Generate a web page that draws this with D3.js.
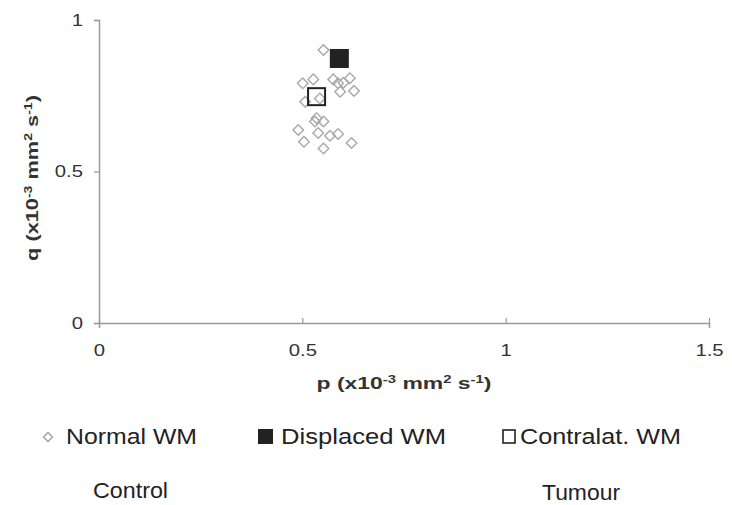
<!DOCTYPE html>
<html><head><meta charset="utf-8">
<script src="https://cdn.jsdelivr.net/npm/d3@7"></script>
<style>body{margin:0;background:#fff}svg{display:block}text{font-family:"Liberation Sans",Arial,sans-serif}</style>
</head><body><svg id="c" width="732" height="505"></svg>
<script>
const normalP = [0.552,0.501,0.527,0.576,0.601,0.617,0.593,0.627,0.588,0.543,0.507,0.535,0.552,0.531,0.490,0.539,0.568,0.588,0.504,0.552,0.621];
const normalQ = [0.901,0.791,0.804,0.804,0.793,0.808,0.763,0.766,0.791,0.741,0.730,0.676,0.665,0.665,0.637,0.627,0.618,0.624,0.598,0.576,0.594];
const displacedP = [0.591];
const displacedQ = [0.873];
const contralatP = [0.535];
const contralatQ = [0.747];
const xTicks = [0, 0.5, 1, 1.5];
const yTicks = [0, 0.5, 1];
const legendLabels = ["Normal WM", "Displaced WM", "Contralat. WM"];
const groupLabels = ["Control", "Tumour"];

const svg = d3.select("#c");
const x = d3.scaleLinear().domain([0, 1.5]).range([99, 709]);
const y = d3.scaleLinear().domain([0, 1]).range([323, 20]);
const axisColor = "#999";
const stretch = 1.27;

function widen(sel, s) {
  sel.each(function() {
    const w = this.getComputedTextLength();
    d3.select(this).attr("textLength", w * s).attr("lengthAdjust", "spacingAndGlyphs");
  });
}

const gx = svg.append("g").attr("transform", `translate(0,${y(0)})`)
  .call(d3.axisBottom(x).tickValues(xTicks).tickFormat(d3.format("")).tickSize(5).tickPadding(17));
const gy = svg.append("g").attr("transform", `translate(${x(0)},0)`)
  .call(d3.axisLeft(y).tickValues(yTicks).tickFormat(d3.format("")).tickSize(5).tickPadding(11));
[gx, gy].forEach(g => {
  g.select(".domain").attr("stroke", axisColor).attr("stroke-width", 1.5);
  g.selectAll(".tick line").attr("stroke", axisColor).attr("stroke-width", 1.2);
  g.selectAll(".tick text").attr("fill", "#333").style("font-size", "16px");
  widen(g.selectAll(".tick text"), stretch);
});
gx.selectAll(".tick line").attr("y1", 0).attr("y2", -5);
gy.selectAll(".tick line").attr("x1", 0).attr("x2", -5);

function fitText(sel, target) {
  const w = sel.node().getBBox().width;
  return target / w;
}
const titleHtml = v => `${v} (x10<tspan baseline-shift="super" font-size="11px">-3</tspan> mm<tspan baseline-shift="super" font-size="11px">2</tspan> s<tspan baseline-shift="super" font-size="11px">-1</tspan>)`;
const xt = svg.append("text").attr("text-anchor", "middle")
  .style("font-size", "17px").style("font-weight", "bold").attr("fill", "#333").html(titleHtml("p"));
xt.attr("transform", `translate(404,389) scale(${fitText(xt, 175)},1)`);
const yt = svg.append("text").attr("text-anchor", "middle")
  .style("font-size", "17px").style("font-weight", "bold").attr("fill", "#333").html(titleHtml("q"));
yt.attr("transform", `translate(38,178) rotate(-90) scale(${fitText(yt, 166)},1)`);

const diamond = (cx, cy, r) => `M${cx},${cy-r}L${cx+r},${cy}L${cx},${cy+r}L${cx-r},${cy}Z`;
const normal = normalP.map((p, i) => ({p, q: normalQ[i]}));
svg.append("g").selectAll("path").data(normal).join("path")
  .attr("d", d => diamond(x(d.p), y(d.q), 5.3))
  .attr("fill", "none").attr("stroke", "#a8a8a8").attr("stroke-width", 1.4);
svg.append("g").selectAll("rect").data(contralatP.map((p, i) => ({p, q: contralatQ[i]}))).join("rect")
  .attr("x", d => x(d.p) - 8.5).attr("y", d => y(d.q) - 8.5).attr("width", 17).attr("height", 17)
  .attr("fill", "none").attr("stroke", "#222").attr("stroke-width", 2);
svg.append("g").selectAll("rect").data(displacedP.map((p, i) => ({p, q: displacedQ[i]}))).join("rect")
  .attr("x", d => x(d.p) - 9.5).attr("y", d => y(d.q) - 9.5).attr("width", 19).attr("height", 19)
  .attr("fill", "#222");

// legend
const ly = 437;
svg.append("path").attr("d", diamond(48, ly, 4.5)).attr("fill", "none").attr("stroke", "#a0a0a0").attr("stroke-width", 1.3);
svg.append("rect").attr("x", 258).attr("y", ly - 8).attr("width", 15).attr("height", 15).attr("fill", "#222");
svg.append("rect").attr("x", 503).attr("y", ly - 7).attr("width", 12).attr("height", 13).attr("fill", "none").attr("stroke", "#222").attr("stroke-width", 1.6);
const lx = [66, 281, 520];
const lw = [131, 165, 161];
legendLabels.forEach((t, i) => svg.append("text").attr("x", lx[i]).attr("y", ly + 7)
  .style("font-size", "22px").attr("fill", "#222")
  .attr("textLength", lw[i]).attr("lengthAdjust", "spacingAndGlyphs").text(t));

const gxPos = [93, 542], gyPos = [498, 500], gw = [75, 78];
groupLabels.forEach((t, i) => svg.append("text").attr("x", gxPos[i]).attr("y", gyPos[i])
  .style("font-size", "22px").attr("fill", "#222")
  .attr("textLength", gw[i]).attr("lengthAdjust", "spacingAndGlyphs").text(t));
</script></body></html>
